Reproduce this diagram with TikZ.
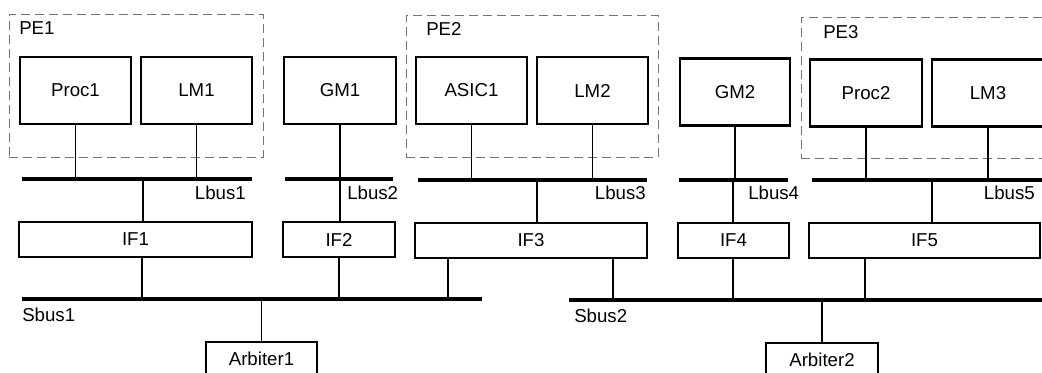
\documentclass[tikz,border=0pt]{standalone}
\usepackage{fontspec}
\setmainfont{Liberation Sans}
\begin{document}
\begin{tikzpicture}[x=0.75pt,y=-0.75pt,
  every node/.style={font=\fontsize{14}{16}\selectfont},
  unit/.style={draw, line width=1.9pt, inner sep=0pt, minimum width=#1*0.75pt, minimum height=67*0.75pt},
  iface/.style={draw, line width=1.9pt, inner sep=0pt, minimum width=#1*0.75pt, minimum height=35*0.75pt},
  arb/.style={draw, line width=1.9pt, inner sep=0pt, minimum width=111*0.75pt, minimum height=34*0.75pt},
  bus/.style={fill=black, inner sep=0pt, minimum width=#1*0.75pt, minimum height=3.3pt},
  pe/.style={draw=black!55, line width=0.7pt, dash pattern=on 7pt off 3.5pt, inner sep=0pt},
  lbl/.style={inner sep=0pt},
  wire/.style={line width=1pt}]
\clip (0,0) rectangle (1042,373);
\fill[white] (0,0) rectangle (1042,373);

% processing element outlines
\node[pe, minimum width=254*0.75pt, minimum height=143*0.75pt] (pe1) at (136,85.5) {};
\node[pe, minimum width=252*0.75pt, minimum height=142*0.75pt] (pe2) at (532,86) {};
\node[pe, minimum width=260*0.75pt, minimum height=141*0.75pt] (pe3) at (931,87.5) {};
\node[lbl, anchor=west] (pe1l) at (19,28) {PE1};
\node[lbl, anchor=west] (pe2l) at (426,29) {PE2};
\node[lbl, anchor=west] (pe3l) at (823,32) {PE3};

% top units
\node[unit=111] (proc1) at (75.5,90.5) {Proc1};
\node[unit=111] (lm1) at (196.5,90.5) {LM1};
\node[unit=112] (gm1) at (340,90.5) {GM1};
\node[unit=111] (asic1) at (471.5,90.5) {ASIC1};
\node[unit=111] (lm2) at (592.5,90.5) {LM2};
\node[unit=110] (gm2) at (735,92) {GM2};
\node[unit=112] (proc2) at (866,93) {Proc2};
\node[unit=112] (lm3) at (988,93) {LM3};

% local buses
\node[bus=230] (lbus1) at (137,179) {};
\node[bus=108] (lbus2) at (339,179) {};
\node[bus=229] (lbus3) at (532.5,180) {};
\node[bus=109] (lbus4) at (733.5,180) {};
\node[bus=238] (lbus5) at (931,180) {};
\node[lbl, anchor=east] (lbus1l) at (246,193) {Lbus1};
\node[lbl, anchor=west] (lbus2l) at (347,193) {Lbus2};
\node[lbl, anchor=east] (lbus3l) at (646,193) {Lbus3};
\node[lbl, anchor=west] (lbus4l) at (748,193) {Lbus4};
\node[lbl, anchor=east] (lbus5l) at (1035,193) {Lbus5};

% interfaces
\node[iface=233] (if1) at (135.5,239.5) {IF1};
\node[iface=112] (if2) at (339,239.5) {IF2};
\node[iface=232] (if3) at (531,240.5) {IF3};
\node[iface=111] (if4) at (733.5,240.5) {IF4};
\node[iface=231] (if5) at (924.5,240.5) {IF5};

% system buses
\node[bus=460] (sbus1) at (252,299) {};
\node[bus=481] (sbus2) at (809.5,300) {};
\node[lbl, anchor=west] (sbus1l) at (22,315) {Sbus1};
\node[lbl, anchor=west] (sbus2l) at (574,316) {Sbus2};

% arbiters
\node[arb] (arbiter1) at (261.5,359) {Arbiter1};
\node[arb, minimum width=112*0.75pt] (arbiter2) at (822,360) {Arbiter2};

% taps
\coordinate (t1) at (143,179);
\coordinate (t2) at (340,179);
\coordinate (t3) at (537,180);
\coordinate (t4) at (733,180);
\coordinate (t5) at (932,180);
\coordinate (s1) at (142,299);
\coordinate (s2) at (339,299);
\coordinate (s3) at (448,299);
\coordinate (s4) at (613,300);
\coordinate (s5) at (733,300);
\coordinate (s6) at (865,300);

% unit to local bus
\draw[wire] (proc1.south) -- (proc1.south |- lbus1.center);
\draw[wire] (lm1.south) -- (lm1.south |- lbus1.center);
\draw[wire] (gm1.south) -- (gm1.south |- lbus2.center);
\draw[wire] (asic1.south) -- (asic1.south |- lbus3.center);
\draw[wire] (lm2.south) -- (lm2.south |- lbus3.center);
\draw[wire] (gm2.south) -- (gm2.south |- lbus4.center);
\draw[wire] (proc2.south) -- (proc2.south |- lbus5.center);
\draw[wire] (lm3.south) -- (lm3.south |- lbus5.center);

% local bus to interface
\draw[wire] (t1) -- (t1 |- if1.north);
\draw[wire] (t2) -- (t2 |- if2.north);
\draw[wire] (t3) -- (t3 |- if3.north);
\draw[wire] (t4) -- (t4 |- if4.north);
\draw[wire] (t5) -- (t5 |- if5.north);

% interface to system bus
\draw[wire] (s1 |- if1.south) -- (s1);
\draw[wire] (s2 |- if2.south) -- (s2);
\draw[wire] (s3 |- if3.south) -- (s3);
\draw[wire] (s4 |- if3.south) -- (s4);
\draw[wire] (s5 |- if4.south) -- (s5);
\draw[wire] (s6 |- if5.south) -- (s6);

% system bus to arbiter
\draw[wire] (arbiter1.north) -- (arbiter1.north |- sbus1.center);
\draw[wire] (arbiter2.north) -- (arbiter2.north |- sbus2.center);
\end{tikzpicture}
\end{document}
